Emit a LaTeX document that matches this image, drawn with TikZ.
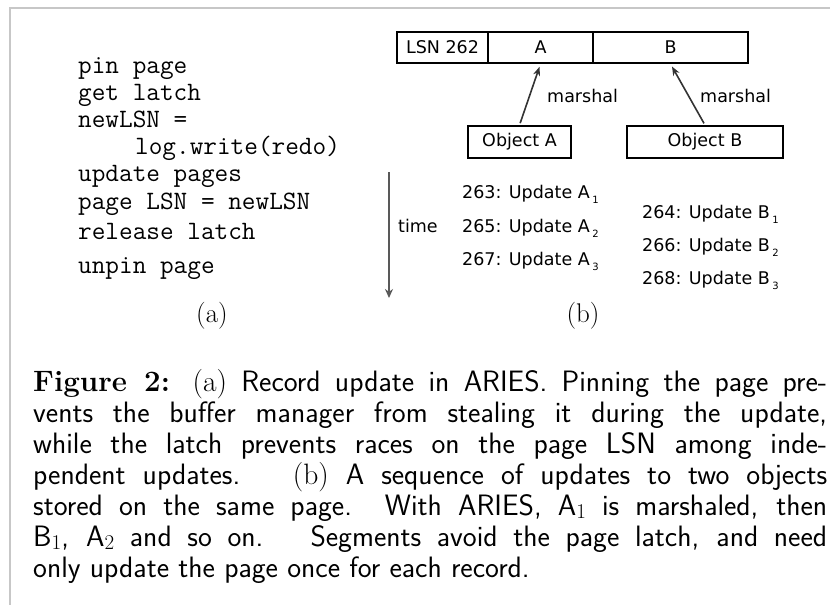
\documentclass[tikz,border=0pt]{standalone}
\usepackage{fontspec}
\newfontfamily\dv{DejaVu Sans}
\usetikzlibrary{arrows.meta}
\tikzset{
  cell/.style={draw=black, line width=1.8pt, minimum height=31pt, inner sep=0pt, font=\dv\fontsize{17.5}{20}\selectfont},
  lbl/.style={anchor=base west, inner sep=0pt, font=\dv\fontsize{17.5}{20}\selectfont},
  code/.style={anchor=base west, inner sep=0pt, font=\ttfamily\fontsize{26.5}{30}\selectfont},
  sublbl/.style={inner sep=0pt, font=\rmfamily\fontsize{27}{30}\selectfont},
  capline/.style={anchor=base west, inner sep=0pt, font=\sffamily\fontsize{29.5}{31}\selectfont},
  arr/.style={draw=black!80, line width=1.6pt, -{Stealth[length=9pt,width=7pt]}},
  frameline/.style={draw=black!22, line width=1.5pt}
}
\newcommand{\lowsub}[1]{\kern2.5pt\raisebox{-5pt}{\fontsize{10}{12}\selectfont #1}}
\newcommand{\capsub}[1]{\raisebox{-2.5pt}{\rmfamily\fontsize{21}{22}\selectfont #1}}
\begin{document}
\begin{tikzpicture}[x=1pt,y=-1pt]
\useasboundingbox (0,0) rectangle (830,605);
% frame
\coordinate (f1) at (10,605);
\coordinate (f2) at (10,8);
\coordinate (f3) at (830,8);
\draw[frameline] (f1) -- (f2) -- (f3);
% (a) code
\node[code] (c1) at (78,73) {pin page};
\node[code] (c2) at (78,100) {get latch};
\node[code] (c3) at (78,127) {newLSN =};
\node[code] (c4) at (135,154) {log.write(redo)};
\node[code] (c5) at (78,181) {update pages};
\node[code] (c6) at (78,209) {page LSN = newLSN};
\node[code] (c7) at (78,239) {release latch};
\node[code] (c8) at (78,273) {unpin page};
\node[sublbl] (la) at (212,316) {(a)};
% (b) page
\node[cell, minimum width=91pt] (lsn) at (442.5,47.5) {LSN 262};
\node[cell, minimum width=105pt] (cellA) at (540.5,47.5) {A};
\node[cell, minimum width=155pt] (cellB) at (670.5,47.5) {B};
\node[cell, minimum width=103pt, minimum height=32pt] (objA) at (519.5,142) {Object A};
\node[cell, minimum width=156pt, minimum height=32pt] (objB) at (705,142) {Object B};
\draw[arr, shorten <=2pt, shorten >=3pt] (objA.north) -- (cellA.south);
\draw[arr, shorten <=2pt, shorten >=3pt] (objB.north) -- (cellB.south);
\node[lbl] (m1) at (547,102) {marshal};
\node[lbl] (m2) at (700,102) {marshal};
% time
\coordinate (t1) at (389,172);
\coordinate (t2) at (389,298);
\draw[draw=black!65, line width=2.2pt, -{Stealth[length=9pt,width=8pt]}] (t1) -- (t2);
\node[lbl] (time) at (398,232) {time};
\node[lbl] (u1) at (462,198) {263: Update A\lowsub{1}};
\node[lbl] (u3) at (462,232) {265: Update A\lowsub{2}};
\node[lbl] (u5) at (462,265) {267: Update A\lowsub{3}};
\node[lbl] (u2) at (642,218) {264: Update B\lowsub{1}};
\node[lbl] (u4) at (642,251) {266: Update B\lowsub{2}};
\node[lbl] (u6) at (642,284) {268: Update B\lowsub{3}};
\node[sublbl] (lb) at (583,316) {(b)};
% caption
\node[capline] (k1) at (33,391) {\hbox to 794pt{{\rmfamily\bfseries Figure 2:} {\rmfamily (a)} Record update in ARIES. Pinning the page pre-}};
\node[capline] (k2) at (33,422) {\hbox to 794pt{vents the buffer manager from stealing it during the update,}};
\node[capline] (k3) at (33,453) {\hbox to 794pt{while the latch prevents races on the page LSN among inde-}};
\node[capline] (k4) at (33,484.5) {\hbox to 794pt{pendent updates. \ {\rmfamily (b)} A sequence of updates to two objects}};
\node[capline] (k5) at (33,515.5) {\hbox to 794pt{stored on the same page. With ARIES, A\capsub{1} is marshaled, then}};
\node[capline] (k6) at (33,546.5) {\hbox to 794pt{B\capsub{1}, A\capsub{2} and so on. \ Segments avoid the page latch, and need}};
\node[capline] (k7) at (33,577.5) {only update the page once for each record.};
\end{tikzpicture}
\end{document}
